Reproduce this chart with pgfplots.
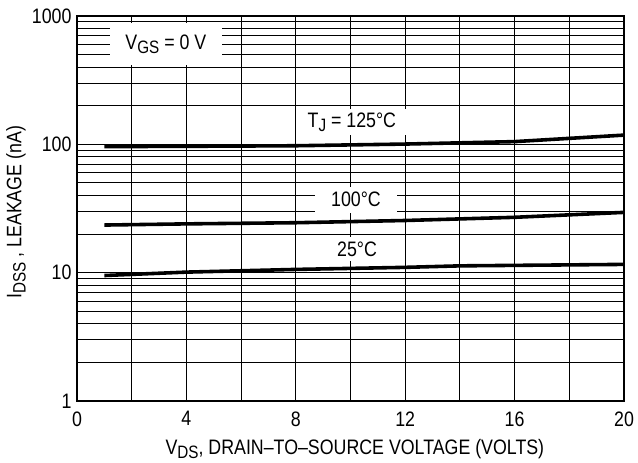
\documentclass[border=0pt]{standalone}
\usepackage{fontspec}
\setmainfont{Liberation Sans}[FakeStretch=0.85]
\usepackage{pgfplots}
\pgfplotsset{compat=1.18}
\newcommand\fs{\fontsize{21}{24}\selectfont}
\newcommand\sub[1]{\raisebox{-0.4ex}{\fontsize{18}{20}\selectfont #1}}
\begin{document}
\begin{tikzpicture}[x=1bp,y=1bp]
\begin{axis}[at={(0,0)}, anchor=south west, scale only axis, width=547bp, height=385bp,
 ymode=log, xmin=0, xmax=20, ymin=1, ymax=1000,
 /pgf/number format/assume math mode=true,
 xtick={0,4,...,20}, minor x tick num=1,
 ytick={1,10,100,1000}, yticklabels={1,10,100,1000},
 grid=both,
 major grid style={black, line width=1pt},
 minor grid style={black, line width=1pt},
 axis line style={line width=1.8pt},
 tick style={draw=none},
 ticklabel style={font=\fs},
 xticklabel style={yshift=-7bp},
 yticklabel style={xshift=-2bp},
 label style={font=\fs},
 xlabel={V\sub{DS}, DRAIN--TO--SOURCE VOLTAGE (VOLTS)},
 ylabel={I\sub{DSS} , LEAKAGE (nA)},
 xlabel style={at={(rel axis cs:0.508,0)}, anchor=center, yshift=-48bp},
 ylabel style={at={(rel axis cs:0,0.49)}, anchor=center, yshift=61bp},
 clip=false,
]
\addplot[black, line width=3.6pt] coordinates {(1,96) (4,96.5) (8,97.5) (12,100.5) (16,105) (20,118)};
\addplot[black, line width=3.6pt] coordinates {(1,23.5) (4,24) (8,24.5) (12,25.5) (16,27) (20,29.5)};
\addplot[black, line width=3.6pt] coordinates {(1,9.5) (4,10.1) (8,10.6) (12,11) (14,11.3) (20,11.6)};
\node[fill=white, inner sep=0pt, minimum width=112bp, minimum height=42bp, font=\fs] at (axis cs:3.25,600) {V\sub{GS} = 0 V};
\node[fill=white, inner sep=0pt, minimum width=108bp, minimum height=26bp, font=\fs] at (axis cs:10.05,148) {T\sub{J} = 125°C};
\node[fill=white, inner sep=0pt, minimum width=82bp, minimum height=26bp, font=\fs] at (axis cs:10.2,37) {100°C};
\node[fill=white, inner sep=0pt, minimum width=66bp, minimum height=24bp, font=\fs] at (axis cs:10.24,15.3) {25°C};
\end{axis}
\path[use as bounding box] (-77bp,-59bp) rectangle (561bp,401bp);
\end{tikzpicture}
\end{document}
